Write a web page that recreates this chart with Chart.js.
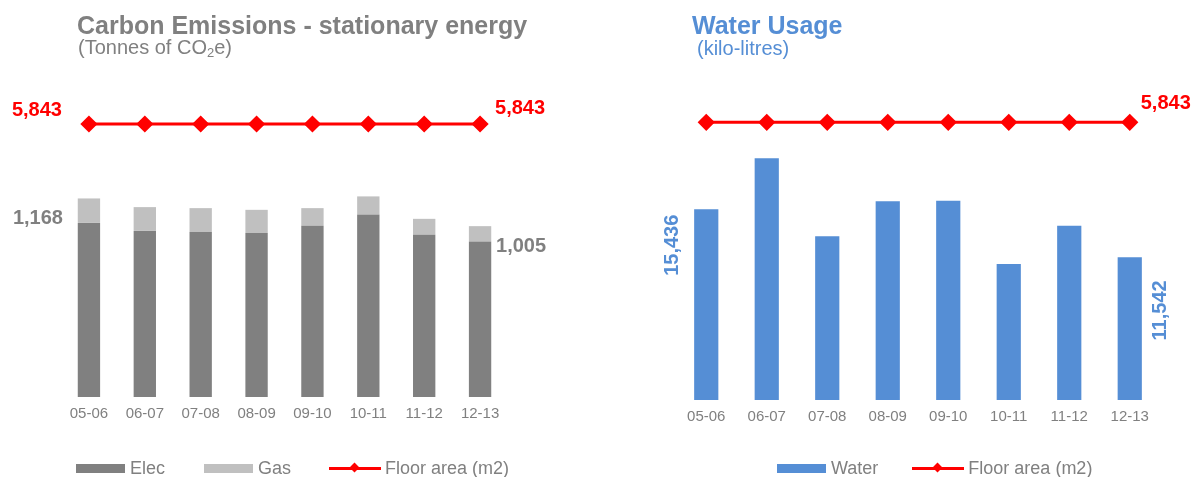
<!DOCTYPE html>
<html><head><meta charset="utf-8">
<script src="https://cdn.jsdelivr.net/npm/chart.js@4/dist/chart.umd.min.js"></script>
<style>
html,body{margin:0;padding:0;background:#fff;}
#wrap{position:relative;width:1202px;height:477px;overflow:hidden;font-family:"Liberation Sans",Arial,sans-serif;}
canvas{position:absolute;top:0;}
.t{position:absolute;white-space:nowrap;line-height:1;}
.leg{position:absolute;top:458px;height:20px;display:flex;align-items:center;font-size:18px;color:#808080;white-space:nowrap;}
.box{display:inline-block;width:49px;height:9px;margin-right:5px;}
.ln{display:inline-block;position:relative;width:52px;height:3px;background:#ff0000;margin-right:4px;}
.ln:after{content:"";position:absolute;left:22px;top:-3px;width:7px;height:7px;background:#ff0000;transform:rotate(45deg);}
</style></head>
<body><div id="wrap">
<canvas id="c1" width="600" height="477" style="left:0"></canvas>
<canvas id="c2" width="602" height="477" style="left:600px"></canvas>
<div class="t" style="left:77px;top:13px;font-size:25px;font-weight:bold;color:#808080">Carbon Emissions - stationary energy</div>
<div class="t" style="left:78px;top:37px;font-size:20px;color:#808080">(Tonnes of CO<sub style="font-size:13px;vertical-align:-3px">2</sub>e)</div>
<div class="t" style="left:692px;top:13px;font-size:25px;font-weight:bold;color:#558ED5">Water Usage</div>
<div class="t" style="left:697px;top:38px;font-size:20px;color:#558ED5">(kilo-litres)</div>
<div class="leg" style="left:76px"><span class="box" style="background:#808080"></span>Elec<span class="box" style="background:#C0C0C0;margin-left:39px"></span>Gas<span class="ln" style="margin-left:38px"></span>Floor area (m2)</div>
<div class="leg" style="left:777px"><span class="box" style="background:#558ED5"></span>Water<span class="ln" style="margin-left:34px"></span>Floor area (m2)</div>
</div>
<script>
const categories = ['05-06','06-07','07-08','08-09','09-10','10-11','11-12','12-13'];
const elec = [1024, 977, 970, 964, 1007, 1074, 954, 915];
const gas = [144, 140, 141, 137, 104, 106, 94, 90];
const floorArea = [5843, 5843, 5843, 5843, 5843, 5843, 5843, 5843];
const water = [15436, 19560, 13250, 16080, 16130, 11010, 14110, 11542];

const FONT = '"Liberation Sans", Arial, sans-serif';
const fmt = v => v.toLocaleString('en-US');

const labelPlugin = {
  id: 'valueLabels',
  afterDatasetsDraw(chart) {
    const items = chart.options.plugins.valueLabels.items || [];
    const ctx = chart.ctx;
    items.forEach(it => {
      const el = chart.getDatasetMeta(it.ds).data[it.idx];
      if (!el) return;
      ctx.save();
      ctx.font = 'bold 20px ' + FONT;
      ctx.fillStyle = it.color;
      ctx.textAlign = 'center';
      ctx.textBaseline = 'middle';
      ctx.translate(el.x + it.dx, el.y + it.dy);
      if (it.rotate) ctx.rotate(-Math.PI / 2);
      ctx.fillText(it.text, 0, 0);
      ctx.restore();
    });
  }
};

function xScale(stacked) {
  return {
    stacked: stacked,
    grid: { display: false, drawTicks: false },
    border: { display: false },
    ticks: { color: '#808080', font: { family: FONT, size: 15 }, padding: 8, autoSkip: false, maxRotation: 0 }
  };
}

const n = categories.length;
const total = elec.map((v, i) => v + gas[i]);

new Chart(document.getElementById('c1'), {
  data: {
    labels: categories,
    datasets: [
      { type: 'line', label: 'Floor area (m2)', data: floorArea, yAxisID: 'y1', borderColor: '#ff0000', backgroundColor: '#ff0000', borderWidth: 3, pointStyle: 'rectRot', pointRadius: 6.5, pointHoverRadius: 6.5, order: 0 },
      { type: 'bar', label: 'Elec', data: elec, backgroundColor: '#808080', stack: 's', barPercentage: 0.4, categoryPercentage: 1, order: 1 },
      { type: 'bar', label: 'Gas', data: gas, backgroundColor: '#C0C0C0', stack: 's', barPercentage: 0.4, categoryPercentage: 1, order: 1 }
    ]
  },
  options: {
    responsive: false, animation: false,
    layout: { padding: { left: 61, right: 92, top: 57, bottom: 46 } },
    scales: {
      x: xScale(true),
      y: { display: false, stacked: true, min: 0, max: 2000 },
      y1: { display: false, min: 0, max: 7277 }
    },
    plugins: {
      legend: { display: false }, tooltip: { enabled: false },
      valueLabels: { items: [
        { ds: 0, idx: 0, text: fmt(floorArea[0]), dx: -52, dy: -14, color: '#ff0000' },
        { ds: 0, idx: n - 1, text: fmt(floorArea[n - 1]), dx: 40, dy: -16, color: '#ff0000' },
        { ds: 2, idx: 0, text: fmt(total[0]), dx: -51, dy: 20, color: '#808080' },
        { ds: 2, idx: n - 1, text: fmt(total[n - 1]), dx: 41, dy: 20, color: '#808080' }
      ] }
    }
  },
  plugins: [labelPlugin]
});

new Chart(document.getElementById('c2'), {
  data: {
    labels: categories,
    datasets: [
      { type: 'line', label: 'Floor area (m2)', data: floorArea, yAxisID: 'y1', borderColor: '#ff0000', backgroundColor: '#ff0000', borderWidth: 3, pointStyle: 'rectRot', pointRadius: 6.5, pointHoverRadius: 6.5, order: 0 },
      { type: 'bar', label: 'Water', data: water, backgroundColor: '#558ED5', barPercentage: 0.4, categoryPercentage: 1, order: 1 }
    ]
  },
  options: {
    responsive: false, animation: false,
    layout: { padding: { left: 76, right: 42, top: 54, bottom: 43 } },
    scales: {
      x: xScale(false),
      y: { display: false, min: 0, max: 28000 },
      y1: { display: false, min: 0, max: 7280 }
    },
    plugins: {
      legend: { display: false }, tooltip: { enabled: false },
      valueLabels: { items: [
        { ds: 0, idx: n - 1, text: fmt(floorArea[n - 1]), dx: 36, dy: -19, color: '#ff0000' },
        { ds: 1, idx: 0, text: fmt(water[0]), dx: -34, dy: 36, color: '#558ED5', rotate: true },
        { ds: 1, idx: n - 1, text: fmt(water[n - 1]), dx: 31, dy: 53, color: '#558ED5', rotate: true }
      ] }
    }
  },
  plugins: [labelPlugin]
});
</script>
</body></html>
